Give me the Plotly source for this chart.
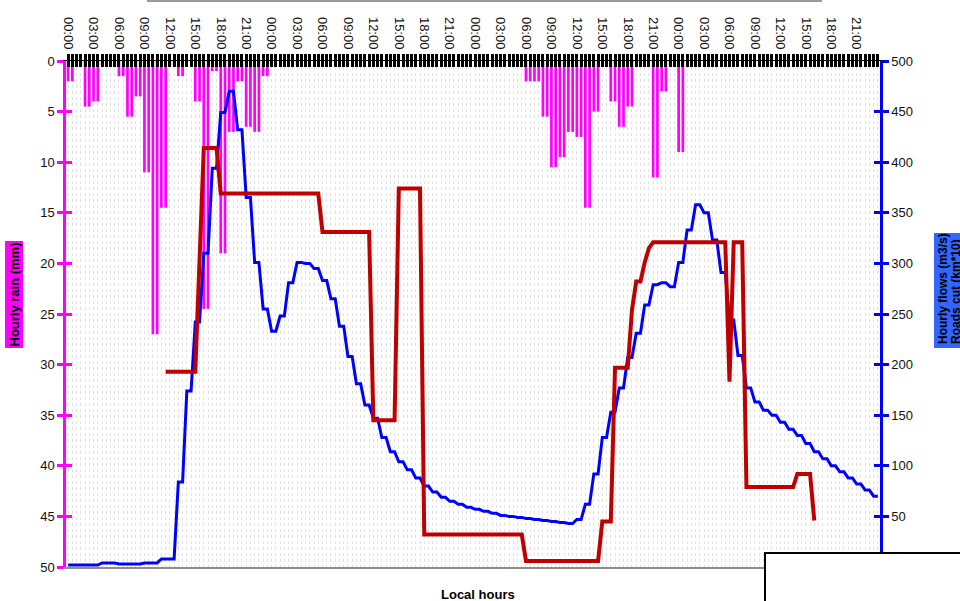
import plotly.graph_objects as go

# ---------------- data ----------------
# half-hourly rain (mm), starting 00:00 of day 1
rain_mm = [
    2.0, 2.0, 0.4, 0.4, 4.5, 4.5, 4.0, 4.0,
    0.4, 0.4, 0, 0, 1.5, 1.5, 5.5, 5.5,
    3.5, 3.5, 11.0, 11.0, 27.0, 27.0, 14.5, 14.5,
    0.4, 0.4, 1.5, 1.5, 0, 0, 4.0, 4.0,
    24.5, 24.5, 1.0, 1.0, 19.0, 19.0, 7.0, 7.0,
    2.0, 2.0, 6.5, 6.5, 7.0, 7.0, 1.5, 1.5,
    0, 0, 0, 0, 0, 0, 0.4, 0.4,
    0, 0, 0, 0, 0, 0, 0, 0,
    0, 0, 0, 0, 0, 0, 0, 0,
    0, 0, 0, 0, 0, 0, 0, 0,
    0, 0, 0, 0, 0, 0, 0, 0,
    0, 0, 0, 0, 0, 0, 0, 0,
    0, 0, 0, 0, 0, 0, 0.4, 0.4,
    0, 0, 0, 0, 2.0, 2.0, 2.0, 2.0,
    5.5, 5.5, 10.5, 10.5, 9.5, 9.5, 7.0, 7.0,
    7.5, 7.5, 14.5, 14.5, 5.0, 5.0, 0.4, 0.4,
    4.0, 4.0, 6.5, 6.5, 4.5, 4.5, 0, 0,
    0, 0, 11.5, 11.5, 3.0, 3.0, 0.4, 0.4,
    9.0, 9.0, 0, 0, 0, 0, 0, 0,
    0, 0, 0, 0, 0, 0, 0, 0,
    0, 0, 0, 0, 0, 0, 0, 0,
    0, 0, 0, 0, 0, 0, 0, 0,
    0, 0, 0, 0, 0, 0, 0, 0,
    0, 0, 0, 0, 0, 0, 0, 0,
]

# hourly flows (m3/s), each hour held over its first half hour
flow_hourly = [
    2, 2, 2, 2, 4, 4, 3, 3, 3, 4, 4, 8,
    8, 84, 174, 242, 310, 394, 449, 470, 432, 365, 301, 255,
    233, 248, 281, 301, 300, 295, 283, 265, 238, 208, 181, 160,
    147, 128, 114, 104, 96, 88, 80, 74, 69, 65, 62, 59,
    57, 55, 53, 51, 50, 49, 48, 47, 46, 45, 44, 43,
    47, 62, 92, 128, 153, 177, 207, 231, 259, 279, 281, 277,
    301, 333, 358, 350, 323, 291, 244, 209, 177, 163, 155, 150,
    143, 136, 130, 122, 114, 107, 100, 94, 88, 82, 76, 70,
]

# roads cut (km*10): time (h since start) and value
roads_t = [11.5, 15, 16, 17.5, 18, 29.5, 30, 35.5, 36, 38.5, 39, 41.5, 42,
           53.5, 54, 62.5, 63, 64, 64.5, 66, 66.5, 67, 67.5, 68, 68.5, 69,
           77.5, 78, 78.5, 79.5, 80, 85.5, 86, 87.5, 88]
roads_v = [193, 193, 414, 414, 369, 369, 331, 331, 145, 145, 374, 374, 32,
           32, 6, 6, 45, 45, 197, 197, 254, 282, 282, 301, 315, 321,
           321, 183, 321, 321, 79, 79, 92, 92, 46]

day_hours = ["00:00", "03:00", "06:00", "09:00", "12:00", "15:00", "18:00", "21:00"]

# ---------------- derived series ----------------
half_hours = [i * 0.5 for i in range(len(rain_mm))]
flow_t, flow_v = [], []
for h, v in enumerate(flow_hourly):
    flow_t += [h, h + 0.5]
    flow_v += [v, v]

tick_text = []
for t in half_hours:
    if t % 3 == 0:
        tick_text.append(day_hours[int(t % 24) // 3])
    else:
        tick_text.append("")

FONT = "Liberation Sans, Arial, sans-serif"
XR = [-0.25, 95.75]
MAG = "#FF00FF"
BLUE = "#0000FF"
RED = "#C00000"

fig = go.Figure()
fig.add_trace(go.Bar(x=half_hours, y=rain_mm, width=0.32, marker=dict(color=MAG, line=dict(width=0)),
                     xaxis="x", yaxis="y", hoverinfo="skip"))
fig.add_trace(go.Scatter(x=flow_t, y=flow_v, mode="lines", line=dict(color=BLUE, width=3),
                         xaxis="x", yaxis="y2", hoverinfo="skip"))
fig.add_trace(go.Scatter(x=roads_t, y=roads_v, mode="lines", line=dict(color=RED, width=4),
                         xaxis="x", yaxis="y2", hoverinfo="skip"))
# empty traces to register the overlay axes
fig.add_trace(go.Scatter(x=[None], y=[None], xaxis="x2", yaxis="y", showlegend=False))
fig.add_trace(go.Scatter(x=[None], y=[None], xaxis="x3", yaxis="y3", showlegend=False))
fig.add_trace(go.Scatter(x=[None], y=[None], xaxis="x", yaxis="y4", showlegend=False))

tickfont = dict(family=FONT, size=13, color="#111111")

fig.update_layout(
    width=960, height=601,
    margin=dict(l=66, r=80, t=61, b=34),
    paper_bgcolor="white", plot_bgcolor="white",
    showlegend=False,
    font=dict(family=FONT),
    xaxis=dict(range=XR, showline=True, linecolor="#8c8c8c", linewidth=2, ticks="",
               showticklabels=False, showgrid=False, zeroline=False),
    xaxis2=dict(range=XR, overlaying="x", side="top", anchor="y",
                tickmode="array", tickvals=half_hours, ticktext=tick_text, tickangle=90,
                ticks="outside", ticklen=6, tickwidth=2.5, tickcolor="black",
                showline=True, linecolor="black", linewidth=1,
                showgrid=True, gridcolor="#e2e2e2", griddash="dot", gridwidth=1,
                zeroline=False, tickfont=tickfont),
    xaxis3=dict(range=XR, overlaying="x", side="top", anchor="y3",
                tickmode="array", tickvals=half_hours, ticks="inside", ticklen=6, tickwidth=2.5,
                tickcolor="black", showticklabels=False, showgrid=False, zeroline=False, showline=False),
    yaxis=dict(range=[50, 0], tick0=0, dtick=5, ticks="outside", ticklen=6, tickwidth=2.5,
               tickcolor=MAG, showline=True, linecolor=MAG, linewidth=2.5,
               showgrid=False, zeroline=False, tickfont=tickfont),
    yaxis3=dict(range=[50, 0], overlaying="y", side="left", anchor="x", tick0=0, dtick=5,
                ticks="inside", ticklen=6, tickwidth=2.5, tickcolor=MAG, showticklabels=False,
                showgrid=False, zeroline=False, showline=False),
    yaxis2=dict(range=[0, 500], overlaying="y", side="right", anchor="x", tick0=0, dtick=50,
                ticks="outside", ticklen=6, tickwidth=2.5, tickcolor=BLUE,
                showline=True, linecolor=BLUE, linewidth=2.5,
                showgrid=False, zeroline=False, tickfont=tickfont),
    yaxis4=dict(range=[0, 500], overlaying="y", side="right", anchor="x", tick0=0, dtick=50,
                ticks="inside", ticklen=6, tickwidth=2.5, tickcolor=BLUE, showticklabels=False,
                showgrid=False, zeroline=False, showline=False),
)

W, H = 814.0, 506.0
def px(x):
    return (x - 66) / W
def py(y):
    return (567 - y) / H

fig.add_annotation(text="<b>Local hours</b>", xref="paper", yref="paper", x=px(477.5), y=py(594),
                   xanchor="center", yanchor="middle", showarrow=False,
                   font=dict(family=FONT, size=13, color="black"))
fig.add_annotation(text="<b>Hourly rain (mm)</b>", xref="paper", yref="paper", x=px(14), y=py(294.5),
                   xanchor="center", yanchor="middle", showarrow=False, textangle=-90,
                   bgcolor=MAG, borderpad=1,
                   font=dict(family=FONT, size=13, color="black"))

# right axis title: blue band with two rotated lines
fig.add_shape(type="rect", xref="paper", yref="paper", x0=px(934), x1=px(975), y0=py(348), y1=py(233),
              fillcolor="#3366FF", line=dict(width=0), layer="above")
fig.add_annotation(text="<b>Hourly flows (m3/s)</b>", xref="paper", yref="paper",
                   x=px(942.5), y=py(346), xanchor="center", yanchor="bottom", showarrow=False,
                   textangle=-90, font=dict(family=FONT, size=12, color="black"))
fig.add_annotation(text="<b>Roads cut (km*10)</b>", xref="paper", yref="paper",
                   x=px(955.5), y=py(346), xanchor="center", yanchor="bottom", showarrow=False,
                   textangle=-90, font=dict(family=FONT, size=12, color="black"))

# cut-off title frame at the top and legend box at the bottom right
fig.add_shape(type="line", xref="paper", yref="paper", x0=px(147), x1=px(822), y0=py(1), y1=py(1),
              line=dict(color="#999999", width=2), layer="above")
fig.add_shape(type="rect", xref="paper", yref="paper", x0=px(765), x1=px(1000), y0=py(640), y1=py(553),
              fillcolor="white", line=dict(color="black", width=2), layer="above")

fig.write_html("out.html")
